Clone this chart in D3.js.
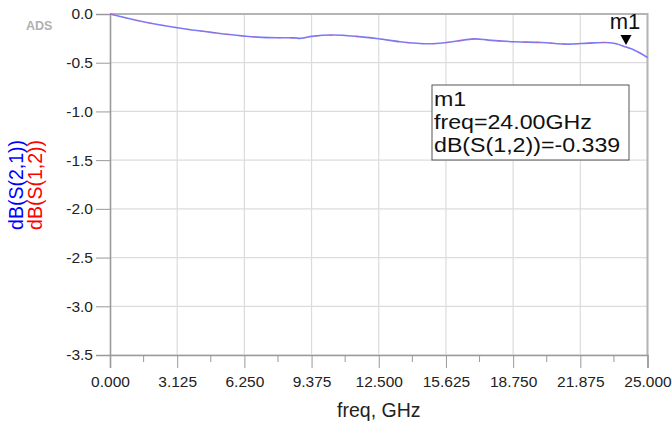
<!DOCTYPE html>
<html>
<head>
<meta charset="utf-8">
<script src="https://cdn.jsdelivr.net/npm/d3@7"></script>
<style>
  body { margin: 0; background: #fff; }
  text { font-family: "Liberation Sans", Arial, sans-serif; }
</style>
</head>
<body>
<svg id="mychart" width="672" height="427"></svg>
<script>
// data
const freq = [0, 1.32, 3.13, 4.73, 6.25, 7.05, 7.98, 8.6, 8.84, 9.38, 10.39, 11.47, 12.48, 13.49, 14.88, 15.66, 16.43, 16.98, 17.6, 18.84, 20.08, 21.32, 22.25, 23.02, 23.49, 24.0, 24.4, 25];
const s21 = [0, -0.069, -0.141, -0.189, -0.227, -0.24, -0.244, -0.245, -0.25, -0.23, -0.216, -0.23, -0.254, -0.285, -0.306, -0.292, -0.268, -0.255, -0.268, -0.285, -0.292, -0.309, -0.299, -0.292, -0.302, -0.339, -0.371, -0.446];
const s12 = [0, -0.069, -0.141, -0.189, -0.227, -0.24, -0.244, -0.245, -0.25, -0.23, -0.216, -0.23, -0.254, -0.285, -0.306, -0.292, -0.268, -0.255, -0.268, -0.285, -0.292, -0.309, -0.299, -0.292, -0.302, -0.339, -0.371, -0.446];
const xTicks = [0, 3.125, 6.25, 9.375, 12.5, 15.625, 18.75, 21.875, 25];
const yTicks = [0, -0.5, -1.0, -1.5, -2.0, -2.5, -3.0, -3.5];
const markerFreq = 24.0;
const markerVal = -0.339;

const svg = d3.select("#mychart");
const pLeft = 110, pRight = 647.5, pTop = 14, pBottom = 355;

const x = d3.scaleLinear().domain([0, 25]).range([pLeft, pRight]);
const y = d3.scaleLinear().domain([0, -3.5]).range([pTop, pBottom]);

// grid
svg.append("g")
  .selectAll("line")
  .data(xTicks.slice(1))
  .join("line")
  .attr("x1", (d) => x(d)).attr("x2", (d) => x(d))
  .attr("y1", pTop).attr("y2", pBottom)
  .attr("stroke", "#dcdcdc").attr("stroke-width", 1.2);
svg.append("g")
  .selectAll("line")
  .data(yTicks.slice(1))
  .join("line")
  .attr("x1", pLeft).attr("x2", pRight)
  .attr("y1", (d) => y(d)).attr("y2", (d) => y(d))
  .attr("stroke", "#dcdcdc").attr("stroke-width", 1.2);

// frame top / right
svg.append("path")
  .attr("d", `M${pLeft},${pTop}H${pRight}V${pBottom}`)
  .attr("fill", "none").attr("stroke", "#b4b4b4").attr("stroke-width", 2);

// axes
const xAxis = svg.append("g")
  .attr("transform", `translate(0,${pBottom})`)
  .call(d3.axisBottom(x).tickValues(xTicks).tickFormat(d3.format(".3f")).tickSize(13).tickPadding(5));
const minor = d3.range(1.5625, 25, 3.125);
svg.append("g")
  .selectAll("line")
  .data(minor)
  .join("line")
  .attr("x1", (d) => x(d)).attr("x2", (d) => x(d))
  .attr("y1", pBottom).attr("y2", pBottom + 7)
  .attr("stroke", "#999");

const yAxis = svg.append("g")
  .attr("transform", `translate(${pLeft},0)`)
  .call(d3.axisLeft(y).tickValues(yTicks).tickFormat((d) => d3.format(".1f")(d).replace("−", "-")).tickSize(14).tickPadding(3));

[xAxis, yAxis].forEach((g) => {
  g.select(".domain").attr("stroke", "#9a9a9a").attr("stroke-width", 1.6);
  g.selectAll(".tick line").attr("stroke", "#999");
  g.selectAll(".tick text").attr("fill", "#222").style("font-size", "15.5px")
    .style("font-family", "'Liberation Sans', Arial, sans-serif");
});
xAxis.selectAll(".tick text").attr("dy", "0.9em");

// traces
const pts21 = freq.map((f, i) => [f, s21[i]]);
const pts12 = freq.map((f, i) => [f, s12[i]]);
const line = d3.line().x((d) => x(d[0])).y((d) => y(d[1])).curve(d3.curveMonotoneX);

svg.append("path").datum(pts21)
  .attr("d", line).attr("fill", "none")
  .attr("stroke", "#7a7aff").attr("stroke-width", 1.6);
svg.append("path").datum(pts12)
  .attr("d", line).attr("fill", "none")
  .attr("stroke", "#e0506a").attr("stroke-width", 1).attr("stroke-dasharray", "4,9").attr("opacity", 0.6);

// marker
const mx = x(markerFreq), my = y(markerVal);
svg.append("path")
  .attr("d", `M${mx - 5.5},${my - 12}L${mx + 5.5},${my - 12}L${mx},${my - 2}Z`)
  .attr("fill", "#000");
svg.append("text")
  .attr("x", mx - 1).attr("y", my - 18)
  .attr("text-anchor", "middle")
  .style("font-size", "22px").attr("fill", "#111")
  .text("m1");

// marker readout box (ADS draws this text a bit wide)
const box = svg.append("g");
box.append("rect")
  .attr("x", 432).attr("y", 85).attr("width", 197).attr("height", 75)
  .attr("fill", "#fff").attr("stroke", "#555").attr("stroke-width", 1);
const lines = ["m1", "freq=" + markerFreq.toFixed(2) + "GHz", "dB(S(1,2))=" + markerVal.toFixed(3)];
box.selectAll("text")
  .data(lines)
  .join("text")
  .attr("transform", (d, i) => `translate(434,${106 + i * 23.2}) scale(1.16,1)`)
  .style("font-size", "20px").attr("fill", "#111")
  .text((d) => d);

// axis titles
svg.append("text")
  .attr("x", (pLeft + pRight) / 2).attr("y", 417)
  .attr("text-anchor", "middle")
  .style("font-size", "19.5px").attr("fill", "#222")
  .text("freq, GHz");
svg.append("text")
  .attr("transform", "translate(23,185) rotate(-90)")
  .attr("text-anchor", "middle")
  .style("font-size", "19.5px").attr("fill", "#0000ff")
  .text("dB(S(2,1))");
svg.append("text")
  .attr("transform", "translate(42,185) rotate(-90)")
  .attr("text-anchor", "middle")
  .style("font-size", "19.5px").attr("fill", "#ff0000")
  .text("dB(S(1,2))");

// ADS logo text
svg.append("text")
  .attr("x", 26).attr("y", 30)
  .style("font-size", "12.5px").style("font-weight", "bold").attr("fill", "#b0b0b0")
  .text("ADS");
</script>
</body>
</html>
